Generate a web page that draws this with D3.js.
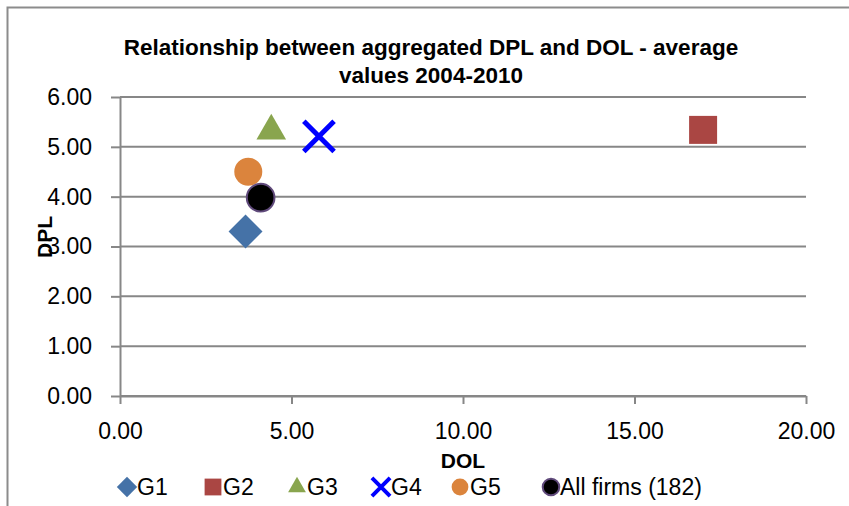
<!DOCTYPE html>
<html>
<head>
<meta charset="utf-8">
<script src="https://cdn.jsdelivr.net/npm/d3@7"></script>
<style>
  body { margin: 0; background: #fff; }
  text { font-family: "Liberation Sans", Arial, sans-serif; fill: #000; }
</style>
</head>
<body>
<div class="chart"></div>
<script>
// Chart data
var groups = ["G1", "G2", "G3", "G4", "G5", "All firms (182)"];
var dolValues = [3.66, 17.0, 4.41, 5.80, 3.74, 4.10];
var dplValues = [3.30, 5.34, 5.32, 5.21, 4.50, 3.98];
var xTicks = [0, 5, 10, 15, 20];
var yTicks = [0, 1, 2, 3, 4, 5, 6];

var svgWidth = 849;
var svgHeight = 506;

var margin = { top: 97, right: 43, bottom: 110, left: 120 };
var width = svgWidth - margin.left - margin.right;
var height = svgHeight - margin.top - margin.bottom;

var svg = d3.select(".chart")
  .append("svg")
  .attr("width", svgWidth)
  .attr("height", svgHeight);

// outer chart border (only left and top visible in the picture)
svg.append("path")
  .attr("d", "M7.5,506 L7.5,7.5 L849,7.5")
  .attr("fill", "none")
  .attr("stroke", "#8c8c8c")
  .attr("stroke-width", 2);

var chart = svg.append("g")
  .attr("transform", "translate(" + margin.left + "," + margin.top + ")");

var xScale = d3.scaleLinear().domain([0, 20]).range([0, width]);
var yScale = d3.scaleLinear().domain([0, 6]).range([height, 0]);

var gridColor = "#878787";
var fontSize = "23px";

// horizontal gridlines
chart.append("g")
  .selectAll("line")
  .data(yTicks)
  .enter().append("line")
  .attr("x1", 0)
  .attr("x2", width)
  .attr("y1", function(d) { return yScale(d); })
  .attr("y2", function(d) { return yScale(d); })
  .attr("stroke", gridColor)
  .attr("stroke-width", 2);

// axes
var bottomAxis = d3.axisBottom(xScale)
  .tickValues(xTicks)
  .tickFormat(d3.format(".2f"))
  .tickSizeInner(8)
  .tickSizeOuter(0)
  .tickPadding(19);
var leftAxis = d3.axisLeft(yScale)
  .tickValues(yTicks)
  .tickFormat(d3.format(".2f"))
  .tickSizeInner(9)
  .tickSizeOuter(0)
  .tickPadding(19);

var xAxisG = chart.append("g")
  .attr("transform", "translate(0," + height + ")")
  .call(bottomAxis);
var yAxisG = chart.append("g")
  .call(leftAxis);

[xAxisG, yAxisG].forEach(function(g) {
  g.select(".domain").attr("stroke", gridColor).attr("stroke-width", 2);
  g.selectAll(".tick line").attr("stroke", gridColor).attr("stroke-width", 2);
  g.selectAll(".tick text")
    .attr("fill", "#000")
    .style("font-size", fontSize)
    .style("font-family", "'Liberation Sans', Arial, sans-serif");
});

// marker definitions per series
var markers = [
  { type: d3.symbolSquare, size: 576, rotate: 45, fill: "#4572a7", stroke: "none" },
  { type: d3.symbolSquare, size: 784, rotate: 0, fill: "#aa4643", stroke: "none" },
  { type: d3.symbolTriangle, size: 380, rotate: 0, fill: "#89a54e", stroke: "none" },
  { type: d3.symbolX, size: 600, rotate: 0, fill: "none", stroke: "#0000ff" },
  { type: d3.symbolCircle, size: 616, rotate: 0, fill: "#db843d", stroke: "none" },
  { type: d3.symbolCircle, size: 600, rotate: 0, fill: "#000000", stroke: "#604a7b" }
];

var points = groups.map(function(g, i) {
  return { name: g, x: dolValues[i], y: dplValues[i], m: markers[i] };
});

chart.selectAll(".pt")
  .data(points)
  .enter().append("path")
  .attr("class", "pt")
  .attr("d", function(d) { return d3.symbol().type(d.m.type).size(d.m.size)(); })
  .attr("transform", function(d) {
    return "translate(" + xScale(d.x) + "," + yScale(d.y) + ") rotate(" + d.m.rotate + ")";
  })
  .attr("fill", function(d) { return d.m.fill; })
  .attr("stroke", function(d) { return d.m.stroke; })
  .attr("stroke-width", function(d) { return d.m.type === d3.symbolX ? 5 : 2; });

// title
var title = svg.append("text")
  .attr("x", 431)
  .attr("text-anchor", "middle")
  .style("font-size", "22.5px")
  .style("font-weight", "bold");
title.append("tspan").attr("x", 431).attr("y", 55)
  .text("Relationship between aggregated DPL and DOL - average");
title.append("tspan").attr("x", 431).attr("y", 83)
  .text("values 2004-2010");

// axis titles
svg.append("text")
  .attr("x", 463)
  .attr("y", 468)
  .attr("text-anchor", "middle")
  .style("font-size", "21px")
  .style("font-weight", "bold")
  .text("DOL");

svg.append("text")
  .attr("transform", "translate(52,237) rotate(-90)")
  .attr("text-anchor", "middle")
  .style("font-size", "21px")
  .style("font-weight", "bold")
  .text("DPL");

// legend
var legendX = [127, 213, 297, 381, 460, 551];
var legendScale = 0.36;
var legend = svg.append("g");
var items = legend.selectAll("g")
  .data(points)
  .enter().append("g")
  .attr("transform", function(d, i) { return "translate(" + legendX[i] + ",487)"; });

items.append("path")
  .attr("d", function(d) {
    return d3.symbol().type(d.m.type).size(d.m.size * legendScale)();
  })
  .attr("transform", function(d) { return "rotate(" + d.m.rotate + ")"; })
  .attr("fill", function(d) { return d.m.fill; })
  .attr("stroke", function(d) { return d.m.stroke; })
  .attr("stroke-width", function(d) { return d.m.type === d3.symbolX ? 4 : 2; });

items.append("text")
  .attr("x", function(d, i) { return i === 5 ? 9 : 10; })
  .attr("y", 8)
  .style("font-size", fontSize)
  .text(function(d) { return d.name; });
</script>
</body>
</html>
